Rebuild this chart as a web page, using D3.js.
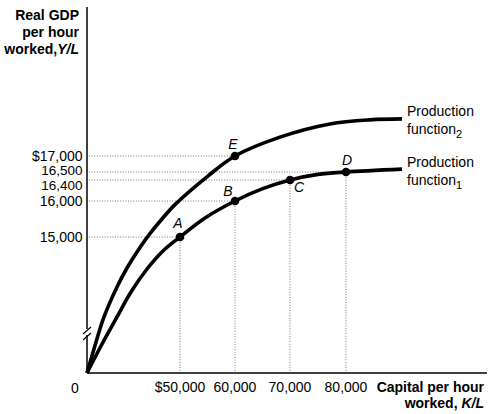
<!DOCTYPE html>
<html>
<head>
<meta charset="utf-8">
<script src="https://cdn.jsdelivr.net/npm/d3@7"></script>
<style>
  body { margin: 0; background: #fff; }
  text { font-family: "Liberation Sans", Arial, Helvetica, sans-serif; fill: #000; }
</style>
</head>
<body>
<div id="chart"></div>
<script>
// capital per hour (K/L) and real GDP per hour (Y/L)
var capitalTicks = [50000, 60000, 70000, 80000];
var capitalTickLabels = ["$50,000", "60,000", "70,000", "80,000"];
var gdpTicks = [15000, 16000, 16400, 16500, 17000];
var gdpTickLabels = ["15,000", "16,000", "16,400", "16,500", "$17,000"];

var pf1K = [0, 7530, 16130, 23650, 32260, 40860, 50000, 54550, 60000, 64910, 70000, 75000, 80000, 90000];
var pf1Y = [0, 2980, 6180, 8930, 11470, 13460, 15000, 15530, 16000, 16230, 16400, 16470, 16500, 16590];

var pf2K = [0, 3760, 9140, 16130, 21500, 26880, 33330, 40320, 47310, 54910, 60000, 68180, 77140, 84290, 90000];
var pf2Y = [0, 2650, 6180, 9490, 11580, 13350, 15060, 15500, 15900, 16440, 17000, 17590, 18000, 18130, 18160];

var pointNames = ["A", "B", "C", "D", "E"];
var pointK = [50000, 60000, 70000, 80000, 60000];
var pointY = [15000, 16000, 16400, 16500, 17000];

var width = 491,
  height = 414;

var svg = d3.select("#chart").append("svg")
  .attr("width", width)
  .attr("height", height);

// both axes are broken, so the scales are piecewise
var x = d3.scaleLinear()
  .domain([0, 50000, 60000, 70000, 80000])
  .range([87, 180, 235, 290, 346]);
var y = d3.scaleLinear()
  .domain([0, 15000, 16000, 16400, 16500, 17000])
  .range([373, 237, 201, 180, 172, 156]);

var x0 = x(0), y0 = y(0);

// dotted guides
var guides = svg.append("g")
  .attr("stroke", "#777")
  .attr("stroke-width", 1)
  .attr("stroke-dasharray", "1,1.6");
pointNames.forEach(function(n, i) {
  guides.append("line")
    .attr("x1", x0 + 2).attr("x2", x(pointK[i]))
    .attr("y1", y(pointY[i])).attr("y2", y(pointY[i]));
  if (n != "E") {
    guides.append("line")
      .attr("x1", x(pointK[i])).attr("x2", x(pointK[i]))
      .attr("y1", y(pointY[i])).attr("y2", y0);
  }
});

// axes
svg.append("line")
  .attr("x1", x0).attr("x2", 487)
  .attr("y1", y0).attr("y2", y0)
  .attr("stroke", "#000").attr("stroke-width", 1.5);
svg.append("line")
  .attr("x1", x0).attr("x2", x0)
  .attr("y1", 7).attr("y2", 329)
  .attr("stroke", "#000").attr("stroke-width", 1.5);
svg.append("line")
  .attr("x1", x0).attr("x2", x0)
  .attr("y1", 335).attr("y2", y0)
  .attr("stroke", "#000").attr("stroke-width", 1.5);
// break marks
[331, 337].forEach(function(b) {
  svg.append("line")
    .attr("x1", x0 - 4).attr("x2", x0 + 4)
    .attr("y1", b + 3).attr("y2", b - 4)
    .attr("stroke", "#000").attr("stroke-width", 1.2);
});

// curves
var line = d3.line()
  .curve(d3.curveCatmullRom.alpha(0.5))
  .x(function(d) { return x(d[0]); })
  .y(function(d) { return y(d[1]); });

[[pf1K, pf1Y], [pf2K, pf2Y]].forEach(function(s) {
  svg.append("path")
    .datum(s[0].map(function(k, i) { return [k, s[1][i]]; }))
    .attr("d", line)
    .attr("fill", "none")
    .attr("stroke", "#000")
    .attr("stroke-width", 3.6)
    .attr("stroke-linecap", "butt");
});

// points and letters
var labelOffset = { A: [-2, -9], B: [-7, -5], C: [9, 12], D: [1, -7], E: [-2, -7] };
pointNames.forEach(function(n, i) {
  var px = x(pointK[i]), py = y(pointY[i]);
  svg.append("circle")
    .attr("cx", px).attr("cy", py).attr("r", 4.3)
    .attr("fill", "#000");
  svg.append("text")
    .attr("x", px + labelOffset[n][0])
    .attr("y", py + labelOffset[n][1])
    .attr("text-anchor", "middle")
    .style("font-size", "14px")
    .style("font-style", "italic")
    .text(n);
});

// y tick labels (16,500 and 16,400 nudged apart so they stay readable)
var tickNudge = { 16400: 5, 16500: -1.5 };
gdpTicks.forEach(function(t, i) {
  svg.append("text")
    .attr("x", 82.5)
    .attr("y", y(t) + (tickNudge[t] || 0))
    .attr("dy", "0.36em")
    .attr("text-anchor", "end")
    .style("font-size", (t == 16400 || t == 16500) ? "13.5px" : "14px")
    .text(gdpTickLabels[i]);
});

// x tick labels
capitalTicks.forEach(function(t, i) {
  svg.append("text")
    .attr("x", x(t))
    .attr("y", 387)
    .attr("dy", "0.36em")
    .attr("text-anchor", "middle")
    .style("font-size", "14px")
    .text(capitalTickLabels[i]);
});
svg.append("text")
  .attr("x", 75).attr("y", 388).attr("dy", "0.36em")
  .attr("text-anchor", "middle")
  .style("font-size", "14px")
  .text("0");

// axis titles
function boldLines(xp, ys, parts) {
  parts.forEach(function(p, i) {
    var t = svg.append("text")
      .attr("x", xp).attr("y", ys[i]).attr("dy", "0.36em")
      .attr("text-anchor", "end")
      .style("font-size", "14px")
      .style("font-weight", "bold");
    t.append("tspan").text(p[0]);
    if (p[1]) t.append("tspan").style("font-style", "italic").text(p[1]);
  });
}
boldLines(79, [15, 32, 49], [["Real GDP"], ["per hour"], ["worked,", "Y/L"]]);
boldLines(484, [387, 403], [["Capital per hour"], ["worked, ", "K/L"]]);

// curve names
function curveName(yp, sub) {
  svg.append("text")
    .attr("x", 407).attr("y", yp).attr("dy", "0.36em")
    .style("font-size", "14px")
    .text("Production");
  var t = svg.append("text")
    .attr("x", 407).attr("y", yp + 18).attr("dy", "0.36em")
    .style("font-size", "14px");
  t.append("tspan").text("function");
  t.append("tspan").attr("dy", "4").style("font-size", "11px").text(sub);
}
curveName(110.5, "2");
curveName(161.5, "1");
</script>
</body>
</html>
